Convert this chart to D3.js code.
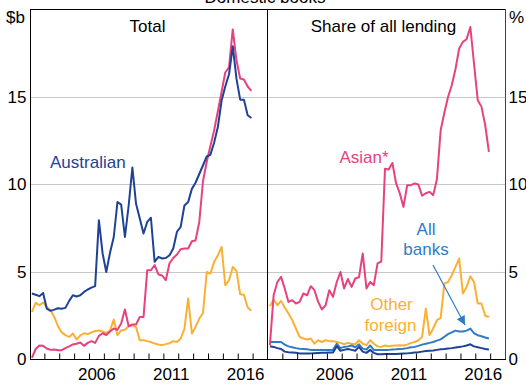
<!DOCTYPE html>
<html><head><meta charset="utf-8">
<script src="https://cdn.jsdelivr.net/npm/d3@7"></script>
<style>html,body{margin:0;padding:0;background:#fff}svg{display:block}text{font-family:"Liberation Sans",Arial,sans-serif}</style>
</head><body><svg id="c" width="526" height="386"></svg>
<script>
// Quarterly observations, Mar 2002 - Dec 2016
const quarters = [
"2002-03","2002-06","2002-09","2002-12","2003-03","2003-06","2003-09","2003-12",
"2004-03","2004-06","2004-09","2004-12","2005-03","2005-06","2005-09","2005-12",
"2006-03","2006-06","2006-09","2006-12","2007-03","2007-06","2007-09","2007-12",
"2008-03","2008-06","2008-09","2008-12","2009-03","2009-06","2009-09","2009-12",
"2010-03","2010-06","2010-09","2010-12","2011-03","2011-06","2011-09","2011-12",
"2012-03","2012-06","2012-09","2012-12","2013-03","2013-06","2013-09","2013-12",
"2014-03","2014-06","2014-09","2014-12","2015-03","2015-06","2015-09","2015-12",
"2016-03","2016-06","2016-09","2016-12"];

// Total ($b)
const totalAustralian = [3.77,3.7,3.62,3.8,2.91,2.78,2.85,2.93,2.9,2.95,
3.35,3.67,3.6,3.67,3.86,4.0,4.11,4.19,7.96,6.06,
5.0,6.1,7.0,9.0,8.85,7.0,8.8,10.97,8.9,8.06,
7.2,7.86,8.1,5.58,5.86,5.77,5.8,5.96,6.34,7.3,
7.58,8.8,9.0,9.75,10.1,10.6,11.1,11.6,11.7,12.4,
13.3,14.8,15.6,16.3,17.9,16.05,14.85,14.85,13.96,13.8];
const totalAsian = [0.1,0.6,0.8,0.78,0.63,0.55,0.57,0.53,0.53,0.65,
0.75,0.86,0.9,0.97,0.78,0.95,1.05,0.95,1.35,1.5,
1.4,1.6,1.77,1.7,2.06,2.86,1.9,2.0,2.0,2.43,
2.43,5.1,5.1,5.39,4.86,4.8,4.53,5.5,5.8,6.0,
6.3,6.34,6.34,6.76,6.8,7.86,10.2,11.3,12.2,13.1,
14.2,15.3,16.4,16.7,18.86,17.1,16.06,16.0,15.6,15.35];
const totalOther = [2.72,3.23,3.1,3.26,3.0,2.82,2.43,1.9,1.55,1.39,
1.29,1.49,1.14,1.38,1.5,1.45,1.55,1.63,1.66,1.6,
1.52,1.65,2.28,1.39,1.66,1.7,1.9,1.95,1.85,1.1,
1.1,1.05,1.0,0.91,0.86,0.82,0.88,0.93,1.05,1.0,
1.2,1.75,3.49,1.49,1.86,2.34,2.66,5.0,4.91,5.58,
5.96,6.43,4.25,4.53,5.29,5.06,3.73,3.7,2.97,2.78];

// Share of all lending (%)
const shareAsian = [0.82,3.67,4.43,4.72,4.06,3.29,3.39,3.2,3.29,3.77,
3.67,4.19,3.96,3.29,2.86,3.1,3.96,3.58,4.43,5.0,
4.06,4.6,4.15,4.63,4.7,6.06,4.06,4.43,4.25,5.49,
5.6,10.9,10.86,11.23,10.06,9.49,8.72,9.96,9.96,10.06,
10.0,9.36,9.5,9.58,9.39,10.3,13.1,14.1,15.0,15.67,
16.6,17.77,18.15,18.3,19.0,16.9,14.82,14.45,13.4,11.86];
const shareOther = [3.05,3.43,3.1,3.35,2.97,2.63,2.25,1.77,1.29,1.2,
1.14,1.2,0.91,1.1,1.0,1.1,1.05,1.05,1.0,0.95,
0.87,0.95,0.9,0.87,1.1,0.9,0.82,1.1,0.9,0.75,
0.72,0.8,0.76,0.78,0.8,0.82,0.8,0.85,0.95,1.0,
1.1,1.29,2.91,1.4,1.77,2.25,2.38,4.34,4.43,4.82,
5.29,5.77,3.77,4.15,4.76,4.43,3.2,3.2,2.5,2.43];
const shareAll = [1.0,1.0,1.0,1.0,0.85,0.75,0.7,0.65,0.62,0.6,
0.58,0.55,0.55,0.55,0.55,0.55,0.55,0.55,0.9,0.65,
0.72,0.75,0.8,0.7,0.87,0.62,0.57,0.8,0.55,0.55,
0.55,0.55,0.55,0.57,0.58,0.6,0.62,0.65,0.7,0.72,
0.78,0.85,0.9,0.95,1.0,1.08,1.15,1.3,1.45,1.55,
1.65,1.6,1.6,1.65,1.77,1.5,1.39,1.33,1.26,1.2];
const shareAustralian = [0.76,0.72,0.65,0.6,0.45,0.42,0.4,0.38,0.35,0.35,
0.35,0.35,0.36,0.37,0.38,0.38,0.4,0.4,0.76,0.5,
0.55,0.6,0.55,0.5,0.72,0.45,0.38,0.55,0.38,0.3,
0.3,0.32,0.32,0.32,0.32,0.33,0.34,0.35,0.37,0.4,
0.42,0.45,0.48,0.5,0.52,0.55,0.58,0.6,0.63,0.65,
0.68,0.72,0.75,0.8,0.87,0.75,0.7,0.65,0.6,0.57];

const yTicks = [0, 5, 10, 15];
const yearTicks = [2003,2004,2005,2006,2007,2008,2009,2010,2011,2012,2013,2014,2015,2016,2017];
const yearLabels = [2006, 2011, 2016];

const colAus = "#1d4296", colAsian = "#e6427e", colOther = "#fbb034", colAll = "#2f7cc4";

const svg = d3.select("#c");
const parse = d3.timeParse("%Y-%m");
const dates = quarters.map(parse);
const domain = [new Date(2002,0,1), new Date(2018,0,1)];
const xL = d3.scaleTime().domain(domain).range([29.5, 267.5]);
const xR = d3.scaleTime().domain(domain).range([267.5, 505]);
const y = d3.scaleLinear().domain([0, 20]).range([359.5, 9.5]);

// gridlines
svg.append("g").selectAll("line").data([5,10,15]).join("line")
  .attr("x1", 30).attr("x2", 505)
  .attr("y1", d => Math.floor(y(d)) + 0.5).attr("y2", d => Math.floor(y(d)) + 0.5)
  .attr("stroke", "#c8c8c8").attr("stroke-width", 1);

// series
function drawLine(x, vals, color) {
  const line = d3.line().x((d, i) => x(dates[i])).y(d => y(d));
  svg.append("path").datum(vals).attr("d", line)
    .attr("fill", "none").attr("stroke", color).attr("stroke-width", 2)
    .attr("stroke-linejoin", "round");
}
drawLine(xL, totalOther, colOther);
drawLine(xL, totalAsian, colAsian);
drawLine(xL, totalAustralian, colAus);
drawLine(xR, shareOther, colOther);
drawLine(xR, shareAll, colAll);
drawLine(xR, shareAustralian, colAus);
drawLine(xR, shareAsian, colAsian);

// frame
svg.append("line").attr("x1", 30).attr("x2", 505.5).attr("y1", 9.5).attr("y2", 9.5).attr("stroke", "#000");
svg.append("line").attr("x1", 30.5).attr("x2", 30.5).attr("y1", 9).attr("y2", 360).attr("stroke", "#000");
svg.append("line").attr("x1", 267.5).attr("x2", 267.5).attr("y1", 9).attr("y2", 360).attr("stroke", "#000");
svg.append("line").attr("x1", 505.5).attr("x2", 505.5).attr("y1", 9).attr("y2", 360).attr("stroke", "#444");

// bottom axes (ticks inward)
[xL, xR].forEach(x => {
  const g = svg.append("g").attr("transform", "translate(0,359.5)")
    .call(d3.axisBottom(x).tickValues(yearTicks.map(yr => new Date(yr,0,1))).tickSize(-6).tickFormat(""));
  g.select(".domain").remove();
  g.selectAll(".tick line").attr("stroke", "#000");
  const g2 = svg.append("g").attr("transform", "translate(0,359.5)")
    .call(d3.axisBottom(x).tickValues(yearLabels.map(yr => new Date(yr,6,1))).tickSize(0).tickPadding(8)
      .tickFormat(d3.timeFormat("%Y")));
  g2.select(".domain").remove();
  g2.selectAll("text").attr("font-size", 17).attr("fill", "#000").attr("dy", "0.71em")
    .style("font-family", '"Liberation Sans",Arial,sans-serif');
});
svg.append("line").attr("x1", 30).attr("x2", 506).attr("y1", 359.5).attr("y2", 359.5).attr("stroke", "#000");

// y axes
const gl = svg.append("g").attr("transform", "translate(26.5,0)")
  .call(d3.axisLeft(y).tickValues(yTicks).tickSize(0).tickPadding(0));
gl.select(".domain").remove();
gl.selectAll("text").attr("font-size", 17).attr("fill", "#000").style("font-family", '"Liberation Sans",Arial,sans-serif');
const gr = svg.append("g").attr("transform", "translate(508.5,0)")
  .call(d3.axisRight(y).tickValues(yTicks).tickSize(0).tickPadding(0));
gr.select(".domain").remove();
gr.selectAll("text").attr("font-size", 17).attr("fill", "#000").style("font-family", '"Liberation Sans",Arial,sans-serif');

// unit labels & titles
const txt = (x, yy, s, opt = {}) => svg.append("text").attr("x", x).attr("y", yy).text(s)
  .attr("font-size", opt.size || 17).attr("fill", opt.color || "#000")
  .attr("text-anchor", opt.anchor || "start");
txt(25, 23, "$b", {anchor: "end"});
txt(509, 23, "%");
txt(265, 3, "Domestic books", {anchor: "middle"});
txt(147.5, 31.5, "Total", {anchor: "middle"});
txt(383.5, 31.5, "Share of all lending", {anchor: "middle"});

// series labels
txt(50, 168, "Australian", {color: colAus});
txt(364, 163, "Asian*", {color: colAsian, anchor: "middle"});
txt(426, 235, "All", {color: colAll, anchor: "middle"});
txt(426, 255, "banks", {color: colAll, anchor: "middle"});
txt(391.5, 310, "Other", {color: colOther, anchor: "middle"});
txt(390.5, 331, "foreign", {color: colOther, anchor: "middle"});

// arrow
svg.append("defs").append("marker").attr("id", "ah")
  .attr("viewBox", "0 0 10 10").attr("refX", 10).attr("refY", 5)
  .attr("markerWidth", 12).attr("markerHeight", 9).attr("markerUnits", "userSpaceOnUse")
  .attr("orient", "auto")
  .append("path").attr("d", "M0,0 L10,5 L0,10 z").attr("fill", colAll);
svg.append("line").attr("x1", 433).attr("y1", 265).attr("x2", 465).attr("y2", 325)
  .attr("stroke", colAll).attr("stroke-width", 1.2).attr("marker-end", "url(#ah)");
</script></body></html>
